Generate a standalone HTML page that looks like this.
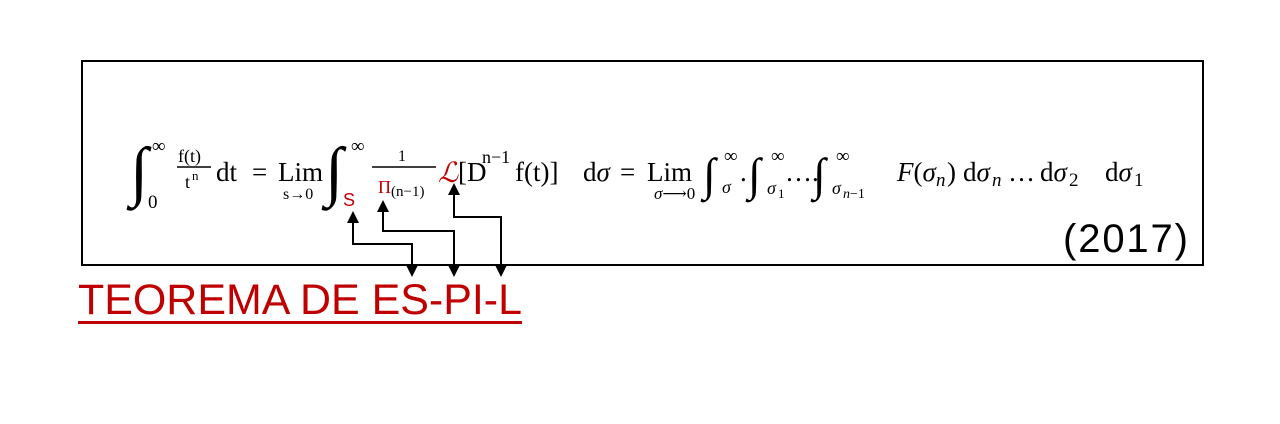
<!DOCTYPE html>
<html><head><meta charset="utf-8"><style>
html,body{margin:0;padding:0;background:#fff;width:1280px;height:424px;overflow:hidden}
svg{display:block}
.s{font-family:"Liberation Serif","DejaVu Serif",serif;fill:#000}
.r{fill:#c00000}
.i{font-style:italic}
</style></head><body>
<svg width="1280" height="424" viewBox="0 0 1280 424" xmlns="http://www.w3.org/2000/svg">
<rect x="82" y="61" width="1121" height="204" fill="none" stroke="#000" stroke-width="2"/>
<g class="s">
<text x="130" y="193" font-size="66" class="i">∫</text>
<text x="152" y="152" font-size="19">∞</text>
<text x="148" y="208" font-size="19">0</text>
<text x="178" y="162" font-size="18">f(t)</text>
<line x1="177" y1="167" x2="211" y2="167" stroke="#000" stroke-width="1.5"/>
<text x="185" y="188" font-size="18">t</text>
<text x="192" y="180" font-size="13">n</text>
<text x="216" y="181" font-size="27">dt</text>
<text x="252" y="181" font-size="27">=</text>
<text x="278" y="181" font-size="27">Lim</text>
<text x="283" y="199" font-size="16">s→0</text>
<text x="325" y="193" font-size="66" class="i">∫</text>
<text x="351" y="152" font-size="19">∞</text>
<text x="343" y="206" font-size="18" class="r" style="font-family:'Liberation Sans',sans-serif">S</text>
<text x="398" y="161" font-size="16">1</text>
<line x1="372" y1="167" x2="436" y2="167" stroke="#000" stroke-width="1.5"/>
<text x="378" y="193" font-size="18" class="r">Π</text>
<text x="391" y="196" font-size="15">(n−1)</text>
<text x="438" y="182" font-size="28" class="r i">ℒ</text>
<text x="458" y="181" font-size="27">[D</text>
<text x="482" y="163" font-size="18">n−1</text>
<text x="515" y="181" font-size="27">f(t)]</text>
<text x="583" y="181" font-size="27">d<tspan class="i">σ</tspan></text>
<text x="620" y="181" font-size="27">=</text>
<text x="647" y="181" font-size="27">Lim</text>
<text x="654" y="199" font-size="17"><tspan class="i">σ</tspan>⟶0</text>
<text x="703" y="190" font-size="46" class="i">∫</text>
<text x="724" y="162" font-size="19">∞</text>
<text x="722" y="193" font-size="18" class="i">σ</text>
<text x="740" y="181" font-size="27">.</text>
<text x="748" y="190" font-size="46" class="i">∫</text>
<text x="771" y="162" font-size="19">∞</text>
<text x="767" y="194" font-size="18" class="i">σ</text>
<text x="778" y="198" font-size="13">1</text>
<text x="785" y="181" font-size="27">….</text>
<text x="813" y="190" font-size="46" class="i">∫</text>
<text x="836" y="162" font-size="19">∞</text>
<text x="832" y="194" font-size="18" class="i">σ</text>
<text x="843" y="198" font-size="14"><tspan class="i">n</tspan>−1</text>
<text x="897" y="181" font-size="27"><tspan class="i">F</tspan>(<tspan class="i">σ</tspan></text>
<text x="936" y="186" font-size="19" class="i">n</text>
<text x="947" y="181" font-size="27">)</text>
<text x="963" y="181" font-size="27">d<tspan class="i">σ</tspan></text>
<text x="992" y="186" font-size="19" class="i">n</text>
<text x="1008" y="181" font-size="27">…</text>
<text x="1040" y="181" font-size="27">d<tspan class="i">σ</tspan></text>
<text x="1069" y="186" font-size="19">2</text>
<text x="1105" y="181" font-size="27">d<tspan class="i">σ</tspan></text>
<text x="1134" y="186" font-size="19">1</text>
</g>
<text x="1063" y="252" font-size="40" font-family="Liberation Sans,sans-serif" textLength="125">(2017)</text>
<g fill="none" stroke="#000" stroke-width="2">
<polyline points="353,222 353,244 412,244 412,266"/>
<polyline points="383,211 383,231 454,231 454,266"/>
<polyline points="454,194 454,217 501,217 501,266"/>
</g>
<g fill="#000">
<polygon points="353,211 347,223 359,223"/>
<polygon points="383,200 377,212 389,212"/>
<polygon points="454,183 448,195 460,195"/>
<polygon points="412,277 406,265 418,265"/>
<polygon points="454,277 448,265 460,265"/>
<polygon points="501,277 495,265 507,265"/>
</g>
<text x="78" y="314" font-size="43" fill="#c00000" font-family="Liberation Sans,sans-serif" textLength="444" lengthAdjust="spacingAndGlyphs">TEOREMA DE ES-PI-L</text>
<rect x="78" y="321" width="444" height="3" fill="#c00000"/>
</svg>
</body></html>
